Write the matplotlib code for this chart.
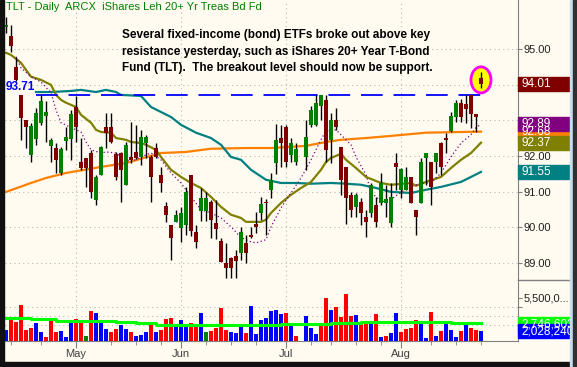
import matplotlib
matplotlib.use("Agg")
import matplotlib.pyplot as plt
import matplotlib.transforms as mtransforms
from matplotlib.patches import Ellipse, Rectangle
import numpy as np

nan = np.nan

# daily candles (bar index 0..95, index 59 is the July 4 holiday gap)
opens = [95.6, 95.36, 94.5, 93.71, 93.0, 92.03, 92.48, 92.93, 93.12, 92.28,
         92.22, 91.52, 92.42, 92.48, 93.37, 91.83, 91.94, 92.08, 90.77, 91.47,
         92.81, 92.81, 92.06, 92.08, 91.19, 91.97, 92.1, 91.97, 92.36, 91.97,
         92.22, 91.47, 90.6, 90.07, 90.15, 89.98, 90.07, 91.47, 89.87, 90.46,
         90.46, 90.71, 90.12, 89.62, 89.0, 89.14, 89.2, 89.28, 89.56, 89.76,
         90.09, 90.4, 90.71, 91.04, 91.8, 92.5, 92.81, 92.03, 91.83, nan,
         91.97, 92.87, 92.87, 93.4, 93.57, 92.45, 93.0, 92.25, 91.69, 90.9,
         90.57, 90.71, 90.29, 90.4, 90.63, 90.68, 90.68, 90.12, 91.8, 91.04,
         91.04, 91.41, 90.49, 90.68, 91.94, 91.83, 91.83, 92.36, 92.5, 92.7,
         93.09, 93.49, 93.46, 93.71, 93.18, 94.18]
highs = [95.9, 95.67, 94.78, 93.71, 93.0, 92.93, 93.35, 93.71, 93.54, 92.5,
         92.36, 92.25, 92.81, 93.29, 93.68, 92.5, 91.94, 92.17, 91.47, 92.28,
         93.2, 93.2, 92.11, 92.11, 92.39, 92.95, 92.87, 92.73, 92.59, 92.03,
         92.36, 91.69, 90.71, 90.07, 90.49, 90.57, 91.13, 91.47, 90.07, 91.1,
         90.99, 90.77, 90.77, 89.7, 89.56, 89.17, 89.37, 90.01, 89.79, 90.01,
         90.43, 90.85, 90.79, 91.52, 92.9, 92.87, 92.87, 92.5, 92.36, nan,
         93.0, 93.4, 93.71, 93.71, 93.71, 93.2, 93.35, 92.25, 91.69, 91.0,
         90.96, 90.82, 90.49, 91.24, 90.85, 91.52, 91.19, 91.24, 92.08, 91.66,
         91.69, 91.41, 90.49, 91.94, 92.08, 91.83, 92.08, 92.39, 92.64, 93.23,
         93.57, 93.6, 93.71, 93.71, 93.18, 94.35]
lows = [95.45, 94.9, 94.1, 92.45, 92.22, 91.83, 92.3, 92.87, 92.39, 91.83,
        91.52, 91.47, 92.17, 91.89, 92.39, 91.6, 91.13, 90.82, 90.63, 91.47,
        92.22, 92.36, 91.33, 90.71, 91.19, 91.8, 91.9, 91.75, 91.94, 90.71,
        91.94, 90.99, 90.15, 89.08, 90.15, 89.59, 89.79, 89.75, 89.42, 90.18,
        90.18, 89.7, 89.67, 89.03, 88.58, 88.58, 88.58, 89.08, 89.0, 89.7,
        89.84, 90.21, 89.79, 90.82, 91.5, 91.69, 91.69, 91.83, 91.75, nan,
        91.6, 92.8, 92.84, 93.0, 91.83, 91.8, 92.73, 90.9, 90.1, 90.29,
        90.29, 90.07, 89.73, 90.29, 90.01, 90.63, 90.29, 90.01, 91.04, 90.82,
        91.04, 90.68, 89.79, 90.68, 91.19, 90.63, 91.52, 91.47, 92.08, 92.67,
        92.95, 92.95, 92.93, 92.78, 92.67, 93.9]
closes = [95.67, 95.08, 94.13, 93.07, 92.81, 92.84, 93.2, 93.54, 93.23, 92.45,
          91.89, 92.2, 92.53, 93.18, 92.81, 91.66, 91.66, 90.99, 91.41, 92.25,
          92.64, 92.39, 91.41, 91.61, 92.31, 91.89, 91.95, 92.53, 92.53, 91.41,
          91.97, 91.24, 90.35, 89.7, 90.35, 90.4, 90.99, 89.9, 89.59, 90.82,
          90.82, 90.21, 89.95, 89.03, 88.86, 88.86, 89.06, 89.87, 89.28, 89.73,
          90.01, 90.65, 90.68, 91.33, 92.45, 92.36, 91.83, 92.36, 92.2, nan,
          92.53, 93.29, 93.49, 93.71, 92.17, 93.0, 92.81, 91.33, 90.82, 90.49,
          90.9, 90.4, 90.15, 91.19, 90.15, 91.24, 90.8, 90.85, 91.69, 91.64,
          91.41, 90.68, 90.29, 91.83, 92.08, 91.13, 92.08, 91.69, 92.45, 93.12,
          93.49, 93.09, 93.32, 93.18, 93.09, 94.01]

# volume in millions of shares, bar colour as shown
vol_m = [2.15, 3.27, 3.02, 4.77, 2.15, 2.33, 2.85, 1.91, 1.39, 3.27,
         1.91, 2.05, 1.39, 3.02, 3.27, 2.85, 1.52, 4.14, 3.96, 3.02,
         2.22, 1.91, 2.22, 2.67, 2.22, 1.97, 1.52, 1.63, 1.91, 2.96,
         1.91, 2.15, 3.27, 3.37, 2.67, 3.2, 2.57, 2.91, 2.78, 3.9,
         1.91, 2.05, 2.33, 4.42, 2.15, 1.91, 1.81, 2.67, 1.87, 4.66,
         1.73, 3.2, 3.37, 4.14, 4.24, 3.82, 3.9, 2.57, 1.52, nan,
         3.62, 2.39, 1.73, 2.91, 5.53, 4.24, 4.59, 3.54, 5.92, 3.62,
         3.72, 2.85, 3.02, 2.78, 3.82, 1.45, 1.55, 1.87, 3.96, 1.97,
         2.22, 2.39, 3.2, 2.91, 1.35, 4.06, 1.55, 2.08, 2.85, 2.15,
         1.45, 2.08, 2.67, 2.39, 2.15, 2.03]
vol_dir = list("brrrrrbbrrrbbbrrgrbbbrrbbrbbbrbrrrbbbrrbgrrrrbbbrbbbbbbbrbr-"
               "bbbrrbrrrrbrrbrbrbbrrrrbbrbrbbbrbrrb")

# volume average (steps)
vma_idx = [0, 5, 10, 22, 26, 30, 55, 65, 71, 89, 95]
vma_val = [3.44, 3.3, 3.12, 2.96, 2.88, 2.67, 2.75, 2.91, 3.02, 2.9, 2.9]

# moving averages
ma10_idx = [2, 3, 5, 7, 9, 10, 11, 13, 15, 16, 17, 19, 20, 22, 23, 25, 27, 29, 31, 33,
            35, 37, 39, 41, 43, 45, 47, 49, 50, 52, 53, 55, 57, 59, 61, 63, 64, 66, 67,
            69, 70, 72, 73, 75, 77, 79, 81, 83, 85, 87, 89, 91, 93, 94, 95]
ma10_val = [94.78, 94.47, 94.22, 94.07, 93.77, 93.29, 92.93, 92.79, 92.67, 92.39, 92.17,
            92.08, 92.11, 92.08, 91.97, 91.83, 91.97, 92.08, 91.89, 91.52, 91.24, 90.85,
            90.49, 90.4, 90.26, 90.01, 89.71, 89.59, 89.56, 89.65, 90.01, 90.54, 90.96,
            91.38, 91.89, 92.45, 92.7, 92.73, 92.59, 92.31, 91.97, 91.47, 90.99, 90.71,
            90.77, 90.99, 91.13, 91.24, 91.24, 91.52, 91.97, 92.36, 92.59, 92.79, 92.89]
ma20_idx = [0, 1, 3, 4, 5, 7, 9, 10, 11, 12, 14, 15, 17, 18, 19, 21, 22, 24, 25, 27,
            28, 30, 31, 33, 35, 37, 39, 41, 43, 45, 47, 48, 51, 52, 53, 55, 57, 59, 61,
            63, 64, 65, 67, 68, 70, 72, 75, 77, 81, 82, 84, 87, 89, 91, 93, 95]
ma20_val = [94.89, 94.83, 94.61, 94.41, 94.22, 94.13, 93.99, 93.71, 93.57, 93.49, 93.37,
            93.15, 92.93, 92.73, 92.67, 92.65, 92.5, 92.45, 92.39, 92.36, 92.31, 92.17,
            91.97, 91.61, 91.41, 91.24, 91.1, 90.85, 90.57, 90.35, 90.26, 90.15, 90.15,
            90.21, 90.4, 90.68, 90.91, 91.1, 91.27, 91.61, 91.83, 91.94, 92.06, 91.89,
            91.66, 91.41, 91.24, 91.19, 91.24, 91.16, 91.27, 91.41, 91.66, 91.89, 92.08,
            92.37]
ma50_idx = [6, 9, 13, 15, 18, 20, 22, 23, 27, 29, 33, 35, 38, 41, 43, 45, 47, 49, 52,
            55, 58, 61, 65, 68, 71, 74, 77, 81, 84, 87, 91, 93, 95]
ma50_val = [93.79, 93.79, 93.82, 93.85, 93.79, 93.85, 93.79, 93.71, 93.68, 93.37, 93.09,
            92.87, 92.65, 92.5, 92.31, 91.97, 91.89, 91.61, 91.33, 91.24, 91.24, 91.22,
            91.24, 91.22, 91.19, 91.1, 90.99, 90.96, 91.05, 91.13, 91.27, 91.41, 91.55]
ma200_idx = [0, 5, 8, 12, 19, 24, 27, 31, 36, 41, 48, 53, 60, 64, 67, 72, 77, 84, 91, 95]
ma200_val = [90.99, 91.24, 91.38, 91.52, 91.69, 91.8, 91.92, 92.08, 92.11, 92.2, 92.22,
             92.22, 92.28, 92.39, 92.45, 92.5, 92.56, 92.65, 92.67, 92.68]

resistance = 93.71
month_idx = [14, 35, 56, 79]
month_lbl = ["May", "Jun", "Jul", "Aug"]
week_idx = [1, 7, 14, 21, 26, 31, 35, 40, 45, 50, 56, 61, 65, 70, 75, 79, 85, 90, 95]
price_ticks = [89, 90, 91, 92, 93, 94, 95]

last_labels = [("94.01", 94.01, "#800000"), ("92.68", 92.68, "#FF8000"),
               ("92.89", 92.89, "#800080"), ("92.37", 92.37, "#808000"),
               ("91.55", 91.55, "#008080")]
vol_labels = [("2,746,603", 2.746, "#00FF00"), ("2,028,240", 2.028, "#0000FF")]

note = ["Several fixed-income (bond) ETFs broke out above key",
        "resistance yesterday, such as iShares 20+ Year T-Bond",
        "Fund (TLT).  The breakout level should now be support."]

W, H = 577, 367
BG = "#FFFBF0"
plt.rcParams["font.family"] = ["Liberation Sans", "DejaVu Sans"]

fig = plt.figure(figsize=(W / 100, H / 100), dpi=100)
fig.patch.set_facecolor(BG)


def frac(x0, y0, x1, y1):
    return [x0 / W, 1 - y1 / H, (x1 - x0) / W, (y1 - y0) / H]


ax = fig.add_axes(frac(5, 0, 518, 280))
axv = fig.add_axes(frac(5, 280, 518, 341), sharex=ax)
for a in (ax, axv):
    a.set_facecolor(BG)
    for s in a.spines.values():
        s.set_visible(False)
    a.spines["right"].set_visible(True)
    a.spines["right"].set_color("#808080")

x = np.arange(len(closes))
o = np.array(opens)
h = np.array(highs)
l = np.array(lows)
c = np.array(closes)
ok = ~np.isnan(c)

ax.set_xlim(-0.2, 102.4)
ax.set_ylim(88.52, 96.37)

# grid
for p in price_ticks:
    ax.axhline(p, color="#B8B8B8", lw=0.8, ls=(0, (1, 3)), zorder=0)
for m in month_idx:
    ax.axvline(m, color="#B8B8B8", lw=0.8, ls=(0, (1, 3)), zorder=0)
    axv.axvline(m, color="#B8B8B8", lw=0.8, ls=(0, (1, 3)), zorder=0)

# moving averages
ax.plot(ma200_idx, ma200_val, color="#FF8000", lw=1.6, zorder=2)
ax.plot(ma50_idx, ma50_val, color="#008080", lw=1.6, zorder=2)
ax.plot(ma20_idx, ma20_val, color="#808000", lw=1.6, zorder=2)
ax.plot(ma10_idx, ma10_val, color="#800080", lw=0.9, ls=(0, (1, 2)), zorder=2)

# breakout line
ax.axhline(resistance, xmin=31 / 513, xmax=479 / 513, color="#0000FF",
           lw=1.3, ls=(0, (12, 6)), zorder=2)
ax.text(0.0, resistance + 0.05, f"{resistance:.2f}", color="#0000FF", fontsize=8.5,
        fontweight="bold", va="bottom", ha="left")

# highlight on the last bar
ax.add_patch(Ellipse((x[-1], 94.13), 4.0, 0.73, facecolor="#FFFF00",
                     edgecolor="#FF00FF", lw=2, zorder=3))

# candles
ax.vlines(x[ok], l[ok], h[ok], color="black", lw=1.0, zorder=4)
up = ok & (c >= o)
dn = ok & (c < o)
body = np.maximum(np.abs(c - o), 0.04)
ax.bar(x[up], body[up], bottom=np.minimum(o, c)[up], width=0.8,
       color="#008000", zorder=5)
ax.bar(x[dn], body[dn], bottom=np.minimum(o, c)[dn], width=0.8,
       color="#800000", zorder=5)

# price scale (93.00 and 94.00 sit under the value boxes)
ax.yaxis.tick_right()
ax.set_yticks(price_ticks)
ax.set_yticklabels(["" if v in (93, 94) else f"{v:.2f}" for v in price_ticks])
ax.tick_params(axis="y", direction="out", length=3, color="#808080",
               labelsize=8, labelcolor="#202020", pad=1)
ax.tick_params(axis="x", bottom=False, labelbottom=False)

trans = mtransforms.blended_transform_factory(ax.transAxes, ax.transData)
bw = 51 / 513
bh = 14 / 35.67
for txt, v, col in last_labels:
    ax.add_patch(Rectangle((1.0, v - bh / 2), bw, bh, transform=trans,
                           color=col, clip_on=False, zorder=6))
    ax.text(1.0 + 3 / 513, v, txt, transform=trans, color="white", fontsize=8.5,
            va="center", ha="left", clip_on=False, zorder=7)

# volume
vol = np.array(vol_m)
vmin, vmax = 1.0, 7.38
axv.set_ylim(vmin, vmax)
cmap = {"b": "#0000FF", "r": "#FF0000", "g": "#008000"}
vok = ~np.isnan(vol)
axv.bar(x[vok], vol[vok] - vmin, bottom=vmin, width=0.7,
        color=[cmap[d] for d, k in zip(vol_dir, vok) if k], zorder=3)
axv.step(vma_idx, vma_val, where="post", color="#00FF00", lw=2.2, zorder=4)
for g in (2.65, 3.6, 4.55):
    axv.axhline(g, color="#B8B8B8", lw=0.8, ls=(0, (1, 3)), zorder=0)

axv.yaxis.tick_right()
axv.set_yticks([4.55, 5.5])
axv.set_yticklabels(["", "5,500,0..."])
axv.tick_params(axis="y", direction="out", length=3, color="#808080",
                labelsize=8, labelcolor="#202020", pad=1)

vtrans = mtransforms.blended_transform_factory(axv.transAxes, axv.transData)
vbh = 14 / 9.56
for txt, v, col in vol_labels:
    cy = max(v, vmin + vbh / 2)
    axv.add_patch(Rectangle((1.0, cy - vbh / 2), bw, vbh, transform=vtrans,
                            color=col, clip_on=False, zorder=6))
    axv.text(1.0 + 3 / 513, cy, txt, transform=vtrans, color="white", fontsize=8.5,
             va="center", ha="left", clip_on=False, zorder=7)

axv.spines["bottom"].set_visible(True)
axv.spines["bottom"].set_color("#808080")
axv.set_xticks(month_idx)
axv.set_xticklabels(month_lbl)
axv.set_xticks(week_idx, minor=True)
axv.tick_params(axis="x", which="major", length=5, color="#808080",
                labelsize=8, labelcolor="#404040", pad=1)
axv.tick_params(axis="x", which="minor", length=3, color="#808080")

# separator in the scale area
fig.add_artist(plt.Line2D([518 / W, 570 / W], [1 - 280 / H, 1 - 280 / H],
                          color="#808080", lw=1))

# title and note
fig.text(6 / W, 1 - 2 / H, "TLT - Daily  ARCX  iShares Leh 20+ Yr Treas Bd Fd",
         color="#008000", fontsize=8, va="top", ha="left")
for k, line in enumerate(note):
    fig.text(122 / W, 1 - (29 + 16.5 * k) / H, line, color="black", fontsize=8.5,
             fontweight="bold", va="top", ha="left")

# window frame
fig.add_artist(Rectangle((0, 0), 4 / W, 1, transform=fig.transFigure,
                         color="#101010", zorder=10))
fig.add_artist(Rectangle((0, 0), 1, 5 / H, transform=fig.transFigure,
                         color="#101010", zorder=10))
fig.add_artist(Rectangle((570 / W, 0), 3 / W, 1, transform=fig.transFigure,
                         color="#C8DCF0", zorder=10))
fig.add_artist(Rectangle((573 / W, 0), 4 / W, 1, transform=fig.transFigure,
                         color="#303030", zorder=10))

fig.savefig("out.png", dpi=100, facecolor=BG)
